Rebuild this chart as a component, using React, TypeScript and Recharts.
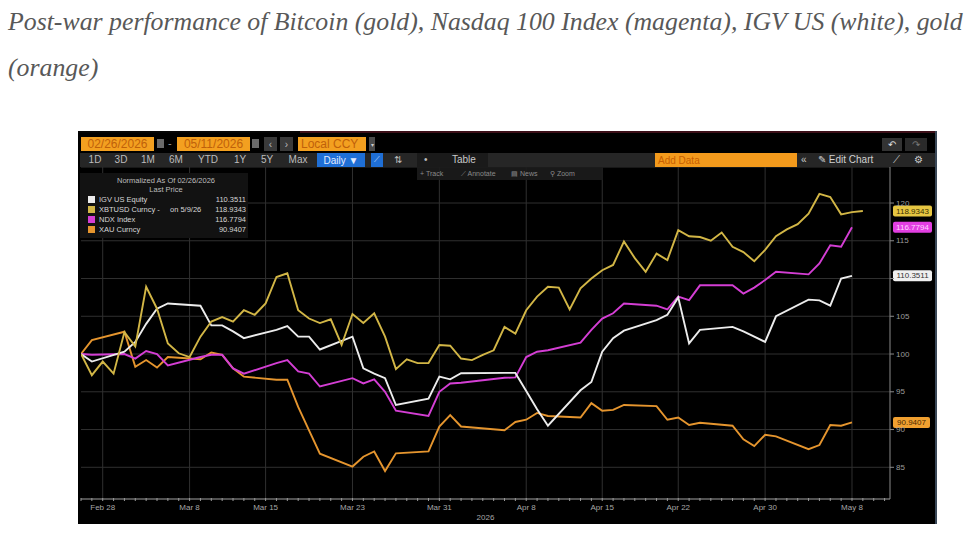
import React from 'react';
import { LineChart, Line, XAxis, YAxis, CartesianGrid, ReferenceLine } from 'recharts';

// ---------- data (day index: 0 = Feb 26, 2026) ----------
const xTickDays = [2, 10, 17, 25, 33, 41, 48, 55, 63, 71];
const xTickLabels = ['Feb 28', 'Mar 8', 'Mar 15', 'Mar 23', 'Mar 31', 'Apr 8', 'Apr 15', 'Apr 22', 'Apr 30', 'May 8'];
const yTicks = [85, 90, 95, 100, 105, 110, 115, 120];
const yTicksHiddenByBadge = [110];

// Bitcoin trades every calendar day: index = day
const btcValues = [
  100.0, 97.2, 99.0, 97.4, 102.9, 101.0, 108.9, 106.0, 101.4, 100.1,
  99.6, 102.3, 104.3, 104.9, 104.3, 105.8, 105.2, 106.7, 110.2, 110.7,
  105.8, 104.7, 104.1, 104.6, 101.2, 105.3, 104.1, 105.4, 102.3, 98.0,
  99.3, 98.8, 98.8, 101.2, 101.1, 99.4, 99.2, 99.9, 100.5, 103.6,
  102.7, 105.8, 107.6, 108.9, 108.8, 105.9, 108.7, 110.0, 111.1, 111.8,
  114.9, 112.7, 110.9, 113.3, 112.45, 116.4, 115.6, 115.5, 115.0, 116.1,
  114.2, 113.5, 112.3, 113.8, 115.6, 116.5, 117.2, 118.6, 121.2, 120.8,
  118.5, 118.8, 118.9343,
];

// US trading days (weekdays, Good Friday closed)
const stockDays = [
  0, 1, 4, 5, 6, 7, 8, 11, 12, 13, 14, 15, 18, 19, 20, 21, 22, 25, 26, 27, 28, 29,
  32, 33, 34, 35, 39, 40, 41, 42, 43, 46, 47, 48, 49, 50, 53, 54, 55, 56, 57,
  60, 61, 62, 63, 64, 67, 68, 69, 70, 71,
];

const igvValues = [
  100.0, 99.0, 100.3, 101.6, 104.0, 106.0, 106.7, 106.4, 103.8, 103.8, 103.0, 102.1,
  103.2, 103.7, 102.3, 102.3, 100.6, 102.3, 98.1, 97.4, 96.8, 93.25,
  94.1, 97.0, 96.65, 97.45, 97.5, 97.5, 95.1, 92.7, 90.5, 95.2, 96.3, 100.3, 102.1, 103.1,
  104.5, 105.2, 107.5, 101.4, 103.2, 103.6, 103.0, 102.3, 101.6, 105.0,
  107.2, 107.1, 106.4, 110.0, 110.3511,
];

const ndxValues = [
  100.0, 99.9, 100.0, 99.4, 100.4, 100.0, 98.5, 99.6, 99.9, 99.9, 98.1, 97.4,
  98.8, 99.2, 97.7, 97.4, 95.7, 96.8, 96.1, 96.65, 95.0, 92.5,
  91.8, 95.0, 96.1, 96.2, 96.85, 96.9, 99.6, 100.3, 100.5, 101.5, 103.2, 104.7, 105.4, 106.7,
  106.4, 105.9, 107.6, 107.15, 109.1, 109.1, 108.0, 108.8, 109.8, 110.9,
  110.55, 112.0, 114.4, 114.2, 116.7794,
];

const xauValues = [
  100.0, 101.85, 102.95, 98.3, 99.2, 98.2, 99.6, 99.3, 100.2, 99.9, 98.1, 97.0,
  96.6, 96.6, 93.0, 89.9, 86.8, 85.1, 86.4, 87.1, 84.5, 86.85,
  87.1, 90.4, 91.9, 90.4, 89.9, 91.0, 91.3, 92.2, 91.8, 91.6, 93.5, 92.5, 92.6, 93.25,
  93.1, 91.3, 91.6, 90.6, 90.9, 90.5, 88.7, 87.8, 89.3, 89.1,
  87.4, 87.95, 90.6, 90.5, 90.9407,
];

const legendNames = ['IGV US Equity', 'XBTUSD Curncy -', 'NDX Index', 'XAU Curncy'];
const legendNotes = ['', 'on 5/9/26', '', ''];
const lastPrices = [110.3511, 118.9343, 116.7794, 90.9407];
const lastLabels = ['110.3511', '118.9343', '116.7794', '90.9407'];
const seriesColors = ['#ececec', '#d2b646', '#d43ed4', '#e5952e'];
const badgeColors = ['#f0f0f0', '#e6c642', '#e23fe2', '#f0a030'];
const badgeText = ['#333333', '#3a3000', '#ffd6ff', '#4a2a00'];

const axisDays = Array.from({ length: 75 }, (_, i) => i);

const rows = btcValues.map((v, d) => {
  const k = stockDays.indexOf(d);
  return {
    day: d,
    btc: v,
    igv: k >= 0 ? igvValues[k] : null,
    ndx: k >= 0 ? ndxValues[k] : null,
    xau: k >= 0 ? xauValues[k] : null,
  };
});

const UI = '"Liberation Sans", Arial, sans-serif';
const GRID = '#303030';

const XTick = (props: any) => {
  const { x, y, payload } = props;
  const idx = xTickDays.indexOf(payload.value);
  return (
    <g>
      <line x1={x} x2={x} y1={y - 1} y2={y + 2} stroke="#9a9a9a" strokeWidth={1} />
      {idx >= 0 && (
        <text x={x} y={y + 8} textAnchor="middle" dominantBaseline="central" fill="#a6a6a6" fontSize={8} fontFamily={UI}>
          {xTickLabels[idx]}
        </text>
      )}
    </g>
  );
};

const YTick = (props: any) => {
  const { x, y, payload } = props;
  if (yTicksHiddenByBadge.includes(payload.value)) return <g />;
  return (
    <text x={x} y={y} textAnchor="start" dominantBaseline="central" fill="#9c9c9c" fontSize={8} fontFamily={UI}>
      {payload.value}
    </text>
  );
};

const makeBadge = (i: number) => (props: any) => {
  const vb = props.viewBox || {};
  const x = (vb.x ?? 0) + (vb.width ?? 0) + 3;
  const y = vb.y ?? 0;
  const w = i === 3 ? 37 : 39;
  return (
    <g>
      <rect x={x} y={y - 5.5} width={w} height={11} rx={2} fill={badgeColors[i]} />
      <text x={x + w / 2} y={y} textAnchor="middle" dominantBaseline="central" fontSize={8} fontFamily={UI} fill={badgeText[i]}>
        {lastLabels[i]}
      </text>
    </g>
  );
};

const Box = ({ l, t, w, h, bg, children, style }: any) => (
  <div
    style={{
      position: 'absolute', left: l, top: t, width: w, height: h, background: bg,
      display: 'flex', alignItems: 'center', justifyContent: 'center', boxSizing: 'border-box',
      ...style,
    }}
  >
    {children}
  </div>
);

const T = ({ l, t, children, size = 10, color = '#c0c0c0', style }: any) => (
  <div
    style={{
      position: 'absolute', left: l, top: t, fontSize: size, color, fontFamily: UI,
      whiteSpace: 'nowrap', lineHeight: 1, ...style,
    }}
  >
    {children}
  </div>
);

const captionStyle: any = {
  position: 'absolute', left: 8, fontFamily: '"Liberation Serif", serif', fontStyle: 'italic',
  fontSize: 25.8, color: '#585858', whiteSpace: 'nowrap', lineHeight: '30px',
};

export default function App() {
  return (
    <div style={{ position: 'absolute', left: 0, top: 0, width: 970, height: 537, background: '#ffffff', overflow: 'hidden' }}>
      <div style={{ ...captionStyle, top: 7 }}>
        Post-war performance of Bitcoin (gold), Nasdaq 100 Index (magenta), IGV US (white), gold
      </div>
      <div style={{ ...captionStyle, top: 53 }}>(orange)</div>

      {/* terminal frame */}
      <div style={{ position: 'absolute', left: 78, top: 131, width: 859, height: 393, background: '#000000', overflow: 'hidden' }}>
        <div style={{ position: 'absolute', left: 0, top: 0 }}>
          <LineChart width={859} height={393} data={rows} margin={{ top: 36, right: 0, bottom: 0, left: 3 }}>
            <CartesianGrid horizontal vertical={false} stroke={GRID} strokeWidth={1} />
            {xTickDays.map((d) => (
              <ReferenceLine key={'v' + d} x={d} stroke={GRID} strokeWidth={1} ifOverflow="extendDomain" />
            ))}
            <XAxis
              dataKey="day"
              type="number"
              domain={[0, 74.5]}
              ticks={axisDays}
              interval={0}
              allowDataOverflow
              tickLine={false}
              tickSize={0}
              tickMargin={0}
              tick={<XTick />}
              axisLine={{ stroke: '#8a8a8a' }}
              height={25}
              label={(p: any) => {
                const vb = p.viewBox || {};
                return (
                  <text x={(vb.x ?? 0) + (vb.width ?? 0) / 2} y={(vb.y ?? 0) + 18} textAnchor="middle" dominantBaseline="central" fill="#a6a6a6" fontSize={8} fontFamily={UI}>
                    2026
                  </text>
                );
              }}
            />
            <YAxis
              orientation="right"
              type="number"
              domain={[80.8, 124.77]}
              ticks={yTicks}
              allowDataOverflow
              width={47}
              tickSize={4}
              tickMargin={2}
              tickLine={{ stroke: '#8a8a8a' }}
              axisLine={{ stroke: '#8a8a8a' }}
              tick={<YTick />}
            />
            <Line dataKey="xau" type="linear" stroke={seriesColors[3]} strokeWidth={1.9} dot={false} connectNulls isAnimationActive={false} />
            <Line dataKey="ndx" type="linear" stroke={seriesColors[2]} strokeWidth={1.9} dot={false} connectNulls isAnimationActive={false} />
            <Line dataKey="igv" type="linear" stroke={seriesColors[0]} strokeWidth={1.9} dot={false} connectNulls isAnimationActive={false} />
            <Line dataKey="btc" type="linear" stroke={seriesColors[1]} strokeWidth={1.9} dot={false} connectNulls isAnimationActive={false} />
            {lastPrices.map((v, i) => (
              <ReferenceLine key={'b' + i} y={v} stroke="none" strokeWidth={0} label={makeBadge(i)} />
            ))}
          </LineChart>
        </div>

        {/* top border */}
        <div style={{ position: 'absolute', left: 0, top: 0, width: 222, height: 2, background: '#050505' }} />
        <div style={{ position: 'absolute', left: 222, top: 0, width: 637, height: 2, background: '#3c0f18' }} />
        {/* right border */}
        <div style={{ position: 'absolute', right: 0, top: 0, width: 2, height: 393, background: '#3a4858' }} />

        {/* row 1 */}
        <Box l={3} t={6} w={73} h={14} bg="#f3a020">
          <span style={{ fontFamily: UI, fontSize: 12, color: '#c0600a' }}>02/26/2026</span>
        </Box>
        <Box l={79} t={8} w={7} h={9} bg="#6a6a6a" />
        <T l={90} t={7} size={11} color="#9a9a9a">-</T>
        <Box l={99} t={6} w={73} h={14} bg="#f3a020">
          <span style={{ fontFamily: UI, fontSize: 12, color: '#c0600a' }}>05/11/2026</span>
        </Box>
        <Box l={174} t={8} w={7} h={9} bg="#6a6a6a" />
        <Box l={186} t={6} w={13} h={14} bg="#3a3a3a">
          <span style={{ fontFamily: UI, fontSize: 10, color: '#bbbbbb' }}>‹</span>
        </Box>
        <Box l={202} t={6} w={13} h={14} bg="#3a3a3a">
          <span style={{ fontFamily: UI, fontSize: 10, color: '#bbbbbb' }}>›</span>
        </Box>
        <Box l={220} t={6} w={68} h={14} bg="#f3a020" style={{ justifyContent: 'flex-start', paddingLeft: 3 }}>
          <span style={{ fontFamily: UI, fontSize: 12, color: '#c0600a' }}>Local CCY</span>
        </Box>
        <Box l={291} t={6} w={6} h={14} bg="#4a4a4a">
          <span style={{ fontFamily: UI, fontSize: 6, color: '#cccccc' }}>▾</span>
        </Box>
        <Box l={804} t={7} w={20} h={13} bg="#333333">
          <span style={{ fontFamily: UI, fontSize: 10, color: '#dddddd' }}>↶</span>
        </Box>
        <Box l={827} t={7} w={22} h={13} bg="#2a2a2a">
          <span style={{ fontFamily: UI, fontSize: 10, color: '#777777' }}>↷</span>
        </Box>

        {/* row 2 band */}
        <div style={{ position: 'absolute', left: 2, top: 22, width: 855, height: 14, background: '#262626' }} />
        {[
          ['1D', 17], ['3D', 43], ['1M', 70], ['6M', 98], ['YTD', 130], ['1Y', 162], ['5Y', 189], ['Max', 220],
        ].map(([s, c]: any) => (
          <T key={s} l={c} t={24} size={10} color="#bdbdbd" style={{ transform: 'translateX(-50%)' }}>{s}</T>
        ))}
        <Box l={239} t={22} w={48} h={14} bg="#1f6fd6">
          <span style={{ fontFamily: UI, fontSize: 10, color: '#e4ecff' }}>Daily ▼</span>
        </Box>
        <Box l={293} t={22} w={12} h={14} bg="#1f6fd6">
          <span style={{ fontFamily: UI, fontSize: 8, color: '#cfe0ff' }}>⟋</span>
        </Box>
        <T l={316} t={24} size={10} color="#bdbdbd">⇅</T>
        <div style={{ position: 'absolute', left: 339, top: 22, width: 71, height: 14, background: '#1a1a1a' }} />
        <T l={346} t={24} size={10} color="#bdbdbd">•</T>
        <T l={374} t={24} size={10} color="#c8c8c8">Table</T>
        <Box l={577} t={22} w={142} h={14} bg="#f39a1c" style={{ justifyContent: 'flex-start', paddingLeft: 3 }}>
          <span style={{ fontFamily: UI, fontSize: 10, color: '#c85f00' }}>Add Data</span>
        </Box>
        <T l={723} t={24} size={10} color="#c8c8c8">«</T>
        <T l={740} t={24} size={10} color="#d0d0d0">✎ Edit Chart</T>
        <T l={815} t={24} size={10} color="#d0d0d0">⟋</T>
        <T l={836} t={24} size={10} color="#d0d0d0">⚙</T>

        {/* row 3 */}
        <div style={{ position: 'absolute', left: 339, top: 36, width: 186, height: 13, background: 'rgba(28,28,28,0.9)' }} />
        <T l={342} t={39} size={7} color="#8a8a8a">+ Track</T>
        <T l={383} t={39} size={7} color="#8a8a8a">⟋ Annotate</T>
        <T l={433} t={39} size={7} color="#8a8a8a">▤ News</T>
        <T l={472} t={39} size={7} color="#8a8a8a">⚲ Zoom</T>

        {/* legend box */}
        <div style={{ position: 'absolute', left: 2, top: 42, width: 168, height: 65, background: '#121212' }}>
          <T l={86} t={4} size={7.5} color="#bdbdbd" style={{ transform: 'translateX(-50%)' }}>Normalized As Of 02/26/2026</T>
          <T l={86} t={13} size={7.5} color="#bdbdbd" style={{ transform: 'translateX(-50%)' }}>Last Price</T>
          {legendNames.map((n, i) => (
            <React.Fragment key={n}>
              <div style={{ position: 'absolute', left: 8, top: 23 + i * 10, width: 7, height: 7, background: seriesColors[i] }} />
              <T l={19} t={23 + i * 10} size={7.5} color="#d6d6d6">{n}</T>
              {legendNotes[i] && <T l={90} t={23 + i * 10} size={7.5} color="#d6d6d6">{legendNotes[i]}</T>}
              <T l={132} t={23 + i * 10} size={7.5} color="#d6d6d6" style={{ width: 34, textAlign: 'right' }}>{lastLabels[i]}</T>
            </React.Fragment>
          ))}
        </div>
      </div>
    </div>
  );
}
